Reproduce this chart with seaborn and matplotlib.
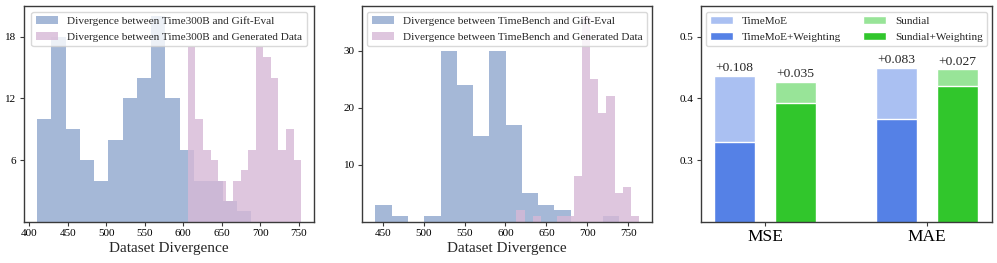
import numpy as np
import pandas as pd
import matplotlib
matplotlib.use("Agg")
import matplotlib.pyplot as plt
from matplotlib.patches import Patch
import seaborn as sns

# ---------------- data ----------------
# Panel 1: Time300B (15 bins each, given by data range and counts)
t300_gift_range = (410.4, 687.9)
t300_gift_counts = [10, 18, 9, 6, 4, 8, 12, 14, 20, 12, 7, 4, 4, 2, 1]
t300_gen_range = (606.0, 752.9)
t300_gen_counts = [17, 10, 7, 6, 4, 2, 4, 5, 7, 17, 16, 14, 7, 9, 6]

# Panel 2: TimeBench
tb_gift_range = (441.0, 739.5)
tb_gift_counts = [3, 1, 0, 1, 30, 24, 15, 30, 17, 5, 3, 2, 0, 0, 1]
tb_gen_range = (613.5, 763.5)
tb_gen_counts = [2, 0, 1, 0, 0, 1, 1, 8, 36, 25, 19, 22, 5, 6, 1]

# Panel 3: bar chart
metrics = ["MSE", "MAE"]
timemoe = [0.437, 0.450]
timemoe_w = [0.329, 0.367]
sundial = [0.427, 0.447]
sundial_w = [0.392, 0.420]
gain_timemoe = ["+0.108", "+0.083"]
gain_sundial = ["+0.035", "+0.027"]

y1_ticks = [6, 12, 18]
y2_ticks = [10, 20, 30]
y3_ticks = [0.3, 0.4, 0.5]

# ---------------- style ----------------
sns.set_style("ticks")
plt.rcParams["font.family"] = ["Liberation Serif", "DejaVu Serif"]
plt.rcParams["axes.edgecolor"] = "#3a3a3a"
plt.rcParams["axes.linewidth"] = 1.0
plt.rcParams["xtick.major.size"] = 3
plt.rcParams["ytick.major.size"] = 3
plt.rcParams["xtick.major.pad"] = 2.5
plt.rcParams["ytick.major.pad"] = 2.5
plt.rcParams["xtick.color"] = "#3a3a3a"
plt.rcParams["ytick.color"] = "#3a3a3a"
plt.rcParams["xtick.labelcolor"] = "black"
plt.rcParams["ytick.labelcolor"] = "black"

BLUE = "#4C72B0"
BLUE_ALPHA = 0.5
PINK = "#D6B8D6"
PINK_ALPHA = 0.8

fig, axes = plt.subplots(1, 3, figsize=(9.97, 2.63), dpi=100)
W, H = 997.0, 263.0
bottom = (H - 221.7) / H
height = (221.7 - 6.0) / H
axes[0].set_position([24.0 / W, bottom, 290.3 / W, height])
axes[1].set_position([362.3 / W, bottom, 290.0 / W, height])
axes[2].set_position([701.0 / W, bottom, 290.7 / W, height])


def draw_hist(ax, rng, counts, color, alpha, label):
    edges = np.linspace(rng[0], rng[1], len(counts) + 1)
    df = pd.DataFrame({"x": (edges[:-1] + edges[1:]) / 2,
                       "w": np.asarray(counts, dtype=float)})
    sns.histplot(data=df, x="x", weights="w", bins=list(edges), color=color,
                 alpha=alpha, edgecolor=color, linewidth=0.0,
                 label=label, ax=ax)


ax = axes[0]
draw_hist(ax, t300_gift_range, t300_gift_counts, BLUE, BLUE_ALPHA,
          "Divergence between Time300B and Gift-Eval")
draw_hist(ax, t300_gen_range, t300_gen_counts, PINK, PINK_ALPHA,
          "Divergence between Time300B and Generated Data")
ax.set_yticks(y1_ticks)

ax = axes[1]
draw_hist(ax, tb_gift_range, tb_gift_counts, BLUE, BLUE_ALPHA,
          "Divergence between TimeBench and Gift-Eval")
draw_hist(ax, tb_gen_range, tb_gen_counts, PINK, PINK_ALPHA,
          "Divergence between TimeBench and Generated Data")
ax.set_yticks(y2_ticks)

for ax in axes[:2]:
    ax.set_ylabel("")
    ax.set_xlabel("Dataset Divergence", fontsize=11, labelpad=2.5)
    ax.tick_params(labelsize=8)
    ax.legend(loc="upper center", fontsize=8.1, frameon=True,
              edgecolor="#d0d0d0", fancybox=True)
    for s in ax.spines.values():
        s.set_visible(True)

# ---------------- bar panel ----------------
ax = axes[2]
base_df = pd.DataFrame({
    "metric": metrics * 2,
    "value": timemoe + sundial,
    "model": ["TimeMoE"] * 2 + ["Sundial"] * 2,
})
w_df = pd.DataFrame({
    "metric": metrics * 2,
    "value": timemoe_w + sundial_w,
    "model": ["TimeMoE+Weighting"] * 2 + ["Sundial+Weighting"] * 2,
})
LIGHT = {"TimeMoE": "#aac0f2", "Sundial": "#98e498"}
DARK = {"TimeMoE+Weighting": "#5581e6", "Sundial+Weighting": "#31c62c"}
sns.barplot(data=base_df, x="metric", y="value", hue="model",
            hue_order=["TimeMoE", "Sundial"], palette=LIGHT, saturation=1,
            width=0.75, gap=0.333, edgecolor="white", linewidth=1,
            errorbar=None, ax=ax, legend=False)
light_containers = list(ax.containers)
sns.barplot(data=w_df, x="metric", y="value", hue="model",
            hue_order=["TimeMoE+Weighting", "Sundial+Weighting"],
            palette=DARK, saturation=1,
            width=0.75, gap=0.333, edgecolor="white", linewidth=1,
            errorbar=None, ax=ax, legend=False)

ax.bar_label(light_containers[0], labels=gain_timemoe, padding=1, fontsize=9.7)
ax.bar_label(light_containers[1], labels=gain_sundial, padding=1, fontsize=9.7)

ax.set_ylim(0.2, 0.55)
ax.set_xlim(-0.395, 1.4)
ax.set_yticks(y3_ticks)
ax.set_xlabel("")
ax.set_ylabel("")
ax.tick_params(axis="y", labelsize=8)
ax.tick_params(axis="x", labelsize=12.5)
for s in ax.spines.values():
    s.set_visible(True)

handles = [Patch(facecolor=LIGHT["TimeMoE"], edgecolor="white", label="TimeMoE"),
           Patch(facecolor=DARK["TimeMoE+Weighting"], edgecolor="white",
                 label="TimeMoE+Weighting"),
           Patch(facecolor=LIGHT["Sundial"], edgecolor="white", label="Sundial"),
           Patch(facecolor=DARK["Sundial+Weighting"], edgecolor="white",
                 label="Sundial+Weighting")]
ax.legend(handles=handles, ncol=2, loc="upper center", fontsize=8.1,
          edgecolor="#d0d0d0", fancybox=True)

fig.savefig("out.png", dpi=100)
